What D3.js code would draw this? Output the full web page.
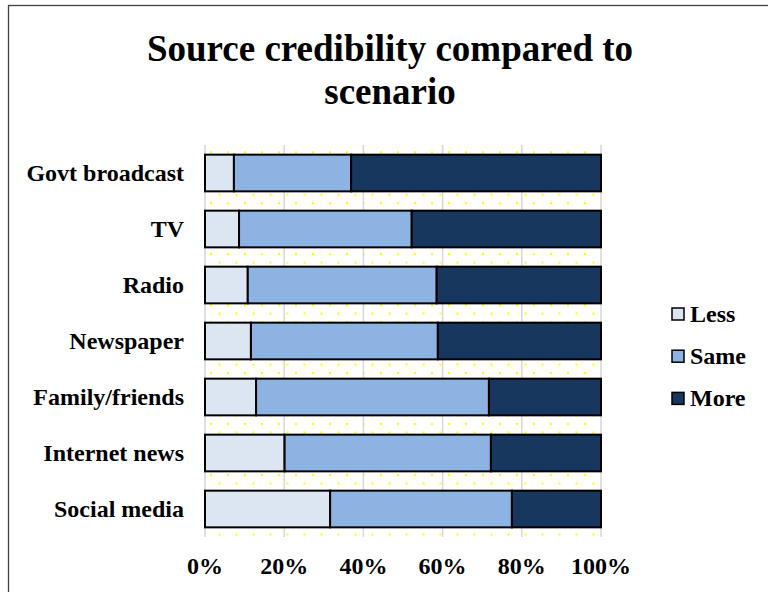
<!DOCTYPE html>
<html>
<head>
<meta charset="utf-8">
<script src="https://cdn.jsdelivr.net/npm/d3@7"></script>
<style>
  html, body { margin: 0; padding: 0; background: #fff; }
  svg { display: block; }
  text { font-family: "Liberation Serif", "Times New Roman", serif; font-weight: bold; fill: #000; }
</style>
</head>
<body>
<svg id="chart" width="768" height="592"></svg>
<script>
// Share of respondents rating each source's credibility (fractions of 1)
const categories = ["Govt broadcast", "TV", "Radio", "Newspaper", "Family/friends", "Internet news", "Social media"];
const seriesNames = ["Less", "Same", "More"];
const lessValues = [0.073, 0.086, 0.108, 0.116, 0.129, 0.201, 0.316];
const sameValues = [0.296, 0.436, 0.477, 0.472, 0.588, 0.521, 0.459];
const moreValues = [0.631, 0.478, 0.415, 0.412, 0.283, 0.278, 0.225];
const tickValues = [0, 0.2, 0.4, 0.6, 0.8, 1.0];
const tickLabels = ["0%", "20%", "40%", "60%", "80%", "100%"];
const colors = ["#dce6f2", "#8db3e2", "#17375e"];

const rows = categories.map((c, i) => ({
  category: c, Less: lessValues[i], Same: sameValues[i], More: moreValues[i]
}));

const svg = d3.select("#chart");

// outer chart frame
svg.append("rect")
  .attr("x", 8.5).attr("y", 5.5)
  .attr("width", 900).attr("height", 800)
  .attr("fill", "none").attr("stroke", "#404040").attr("stroke-width", 1.3);

const plot = { left: 205, right: 601, top: 145, bottom: 537 };

const x = d3.scaleLinear().domain([0, 1]).range([plot.left, plot.right]);
const y = d3.scaleBand().domain(categories)
  .range([plot.top, plot.bottom])
  .paddingInner(0.345).paddingOuter(0.1725);

// dotted plot-area fill
const defs = svg.append("defs");
const pat = defs.append("pattern")
  .attr("id", "dots")
  .attr("patternUnits", "userSpaceOnUse")
  .attr("x", 210).attr("y", 151.3)
  .attr("width", 17).attr("height", 16.98);
pat.append("rect").attr("x", 0).attr("y", 0).attr("width", 2).attr("height", 2).attr("fill", "#ffff00");
pat.append("rect").attr("x", 8.5).attr("y", 8.49).attr("width", 2).attr("height", 2).attr("fill", "#ffff00");

svg.append("rect")
  .attr("x", plot.left).attr("y", plot.top)
  .attr("width", plot.right - plot.left).attr("height", plot.bottom - plot.top)
  .attr("fill", "url(#dots)");

// vertical gridlines
svg.append("g")
  .selectAll("line")
  .data(tickValues)
  .join("line")
  .attr("x1", d => x(d)).attr("x2", d => x(d))
  .attr("y1", plot.top).attr("y2", plot.bottom)
  .attr("stroke", "#d9d9d9").attr("stroke-width", 1.6);

// stacked bars
const stack = d3.stack().keys(seriesNames);
const layers = stack(rows);

svg.append("g")
  .selectAll("g")
  .data(layers)
  .join("g")
  .attr("fill", (d, i) => colors[i])
  .selectAll("rect")
  .data(d => d)
  .join("rect")
  .attr("x", d => x(d[0]))
  .attr("y", d => y(d.data.category))
  .attr("width", d => x(d[1]) - x(d[0]))
  .attr("height", y.bandwidth())
  .attr("stroke", "#000").attr("stroke-width", 2);

// category labels
svg.append("g")
  .selectAll("text")
  .data(categories)
  .join("text")
  .attr("x", 184)
  .attr("y", d => y(d) + y.bandwidth() / 2 + 8)
  .attr("text-anchor", "end")
  .attr("font-size", 24)
  .text(d => d);

// value axis labels
svg.append("g")
  .selectAll("text")
  .data(tickValues)
  .join("text")
  .attr("x", d => x(d))
  .attr("y", 574)
  .attr("text-anchor", "middle")
  .attr("font-size", 24)
  .text((d, i) => tickLabels[i]);

// title
const title = svg.append("text")
  .attr("x", 390).attr("text-anchor", "middle")
  .attr("font-size", 37);
title.append("tspan").attr("x", 390).attr("y", 61).text("Source credibility compared to");
title.append("tspan").attr("x", 390).attr("y", 104).text("scenario");

// legend
const legend = svg.append("g")
  .selectAll("g")
  .data(seriesNames)
  .join("g")
  .attr("transform", (d, i) => `translate(672, ${314 + i * 42.2})`);
legend.append("rect")
  .attr("x", 0).attr("y", -6).attr("width", 12).attr("height", 12)
  .attr("fill", (d, i) => colors[i])
  .attr("stroke", "#000").attr("stroke-width", 1.5);
legend.append("text")
  .attr("x", 18).attr("y", 8)
  .attr("font-size", 24)
  .text(d => d);
</script>
</body>
</html>
